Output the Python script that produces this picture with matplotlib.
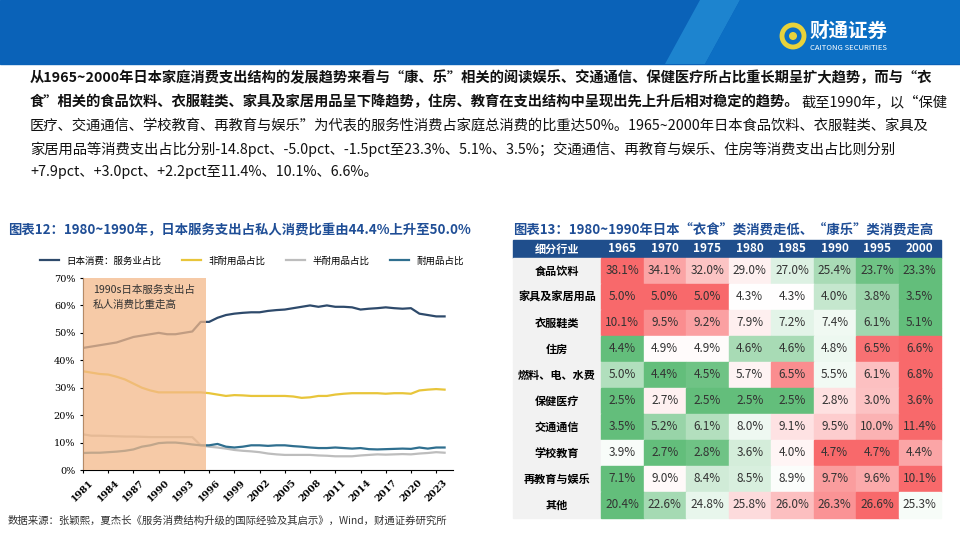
import matplotlib
matplotlib.use("Agg")
import matplotlib.pyplot as plt
import numpy as np
from matplotlib.colors import LinearSegmentedColormap
from matplotlib.patches import Rectangle, Circle, Polygon

plt.rcParams["font.family"] = "Noto Sans CJK SC"

years = list(range(1981, 2025))
services = [44.5,45,45.5,46,46.5,47.5,48.5,49,49.5,50,49.5,49.5,50,50.5,54,54,55.5,56.5,57,57.3,57.5,57.5,58,58.3,58.5,59,59.5,60,59.5,60,59.5,59.5,59.3,58.5,58.8,59,59.3,59,58.8,59,57,56.5,56,56]
nondurable = [36,35.5,35,34.8,34,33,31.5,30,29,28.3,28.3,28.3,28.3,28.3,28.3,28,27.5,27,27.3,27.2,27,27,27,27,27,26.8,26.3,26.5,27,27,27.5,27.8,28,28,28,28,27.8,28,28,27.8,29,29.3,29.5,29.3]
semidurable = [13,12.5,12.5,12.4,12.3,12.2,12.2,12.1,12,12,12,12,12,12,9,8.5,8.2,7.8,7.3,7,6.8,6.5,6,5.7,5.5,5.5,5.5,5.5,5.3,5.2,5,5,5,5.3,5.5,5.7,5.6,5.7,5.8,5.7,6,6.2,6.5,6.3]
durable = [6.2,6.3,6.3,6.5,6.7,7,7.5,8.5,9,9.8,10,10,9.7,9.3,9,9,9.5,8.5,8.2,8.5,9,9,8.8,9,9,8.7,8.5,8.2,8,8,8.2,8,7.8,8,7.6,7.5,7.6,7.7,7.8,7.7,8.2,7.8,8.2,8.2]
series_names = ["日本消费：服务业占比", "非耐用品占比", "半耐用品占比", "耐用品占比"]
xticks = list(range(1981, 2024, 3))

tab_cols = ["1965","1970","1975","1980","1985","1990","1995","2000"]
tab_rows = ["食品饮料","家具及家居用品","衣服鞋类","住房","燃料、电、水费","保健医疗","交通通信","学校教育","再教育与娱乐","其他"]
tab_vals = [
    [38.1,34.1,32.0,29.0,27.0,25.4,23.7,23.3],
    [5.0,5.0,5.0,4.3,4.3,4.0,3.8,3.5],
    [10.1,9.5,9.2,7.9,7.2,7.4,6.1,5.1],
    [4.4,4.9,4.9,4.6,4.6,4.8,6.5,6.6],
    [5.0,4.4,4.5,5.7,6.5,5.5,6.1,6.8],
    [2.5,2.7,2.5,2.5,2.5,2.8,3.0,3.6],
    [3.5,5.2,6.1,8.0,9.1,9.5,10.0,11.4],
    [3.9,2.7,2.8,3.6,4.0,4.7,4.7,4.4],
    [7.1,9.0,8.4,8.5,8.9,9.7,9.6,10.1],
    [20.4,22.6,24.8,25.8,26.0,26.3,26.6,25.3],
]

W, H = 960, 540
fig = plt.figure(figsize=(9.6, 5.4), dpi=100)
bg = fig.add_axes([0, 0, 1, 1])
bg.set_xlim(0, W); bg.set_ylim(H, 0); bg.axis("off")

# header band
bg.add_patch(Rectangle((0, 0), W, 64, color="#0a62b8"))
bg.add_patch(Polygon([(700, 0), (740, 0), (705, 64), (665, 64)], color="#2b9be0", alpha=0.6, lw=0))
bg.add_patch(Polygon([(740, 0), (W, 0), (W, 64), (705, 64)], color="#0c6fc4", lw=0))
bg.add_patch(Circle((793, 36), 11, facecolor="none", edgecolor="#e8d23a", lw=3.5))
bg.add_patch(Circle((793, 36), 4, facecolor="#e8d23a", edgecolor="none"))
bg.text(810, 31, "财通证券", fontsize=14, fontweight="bold", color="white", va="center")
bg.text(810, 48, "CAITONG SECURITIES", fontsize=5.5, color="white", va="center")

lines = [
    ("从1965~2000年日本家庭消费支出结构的发展趋势来看与“康、乐”相关的阅读娱乐、交通通信、保健医疗所占比重长期呈扩大趋势，而与“衣", "bold"),
    ("食”相关的食品饮料、衣服鞋类、家具及家居用品呈下降趋势，住房、教育在支出结构中呈现出先上升后相对稳定的趋势。", "bold"),
    ("医疗、交通通信、学校教育、再教育与娱乐”为代表的服务性消费占家庭总消费的比重达50%。1965~2000年日本食品饮料、衣服鞋类、家具及", "normal"),
    ("家居用品等消费支出占比分别-14.8pct、-5.0pct、-1.5pct至23.3%、5.1%、3.5%；交通通信、再教育与娱乐、住房等消费支出占比则分别", "normal"),
    ("+7.9pct、+3.0pct、+2.2pct至11.4%、10.1%、6.6%。", "normal"),
]
ys = [78, 102, 126, 149, 172]
for (t, w), y in zip(lines, ys):
    tx = bg.text(30, y, t, fontsize=10.3, fontweight=w, va="center", color="#111111")
    if y == 102:
        fig.canvas.draw()
        bb = tx.get_window_extent()
        bg.text(bb.x1 + 2, y, "截至1990年，以“保健", fontsize=10.3, va="center", color="#111111",
                transform=matplotlib.transforms.blended_transform_factory(matplotlib.transforms.IdentityTransform(), bg.transData))

bg.text(8, 230, "图表12：1980~1990年，日本服务支出占私人消费比重由44.4%上升至50.0%", fontsize=9.6, fontweight="bold", color="#1f4e96", va="center")
bg.text(513, 230, "图表13：1980~1990年日本“衣食”类消费走低、“康乐”类消费走高", fontsize=9.6, fontweight="bold", color="#1f4e96", va="center")
bg.text(8, 521, "数据来源：张颖熙，夏杰长《服务消费结构升级的国际经验及其启示》，Wind，财通证券研究所", fontsize=7.5, color="#333333", va="center")

# line chart
ax = fig.add_axes([83/W, 1-470/H, (453-83)/W, (470-278)/H])
cols = ["#2e4a6b", "#e8c53a", "#bdbdbd", "#2f6f8f"]
for data, c, n in zip([services, nondurable, semidurable, durable], cols, series_names):
    ax.plot(years, data, color=c, lw=1.6, label=n)
ax.axvspan(1981, 1995.6, color="#f3b98a", alpha=0.75, lw=0, zorder=3)
ax.text(1982.2, 67.5, "1990s日本服务支出占\n私人消费比重走高", fontsize=7.6, va="top", color="#333333", linespacing=1.6, zorder=4)
ax.set_xlim(1981, 2025); ax.set_ylim(0, 70)
ax.set_yticks(range(0, 71, 10))
ax.set_yticklabels([f"{v}%" for v in range(0, 71, 10)], fontsize=7, fontfamily="DejaVu Serif")
ax.set_xticks(xticks)
ax.set_xticklabels([str(x) for x in xticks], rotation=45, fontsize=7, fontweight="bold", fontfamily="DejaVu Serif")
for s in ["top", "right"]:
    ax.spines[s].set_visible(False)
ax.tick_params(length=2)
ax.legend(loc="lower left", bbox_to_anchor=(-0.14, 1.02), ncol=4, frameon=False, fontsize=6.8, handlelength=2, columnspacing=2.2)

# table
cmap = LinearSegmentedColormap.from_list("rwg", ["#63be7b", "#ffffff", "#f8696b"])
x0, c1w, cw = 513, 88, 42.5
hy, hh, rh = 240, 18, 26
bg.add_patch(Rectangle((x0, hy), c1w + cw*8, hh, color="#1f4e8c"))
bg.text(x0 + c1w/2, hy + hh/2, "细分行业", color="white", fontsize=8, fontweight="bold", ha="center", va="center")
for j, c in enumerate(tab_cols):
    bg.text(x0 + c1w + cw*(j+0.5), hy + hh/2, c, color="white", fontsize=8.5, fontweight="bold", ha="center", va="center")
for i, (r, vals) in enumerate(zip(tab_rows, tab_vals)):
    y = hy + hh + i*rh
    bg.add_patch(Rectangle((x0, y), c1w, rh, color="#f2f2f2"))
    bg.text(x0 + c1w/2, y + rh/2, r, fontsize=8, fontweight="bold", ha="center", va="center")
    v = np.array(vals); lo, hi, md = v.min(), v.max(), np.median(v)
    for j, val in enumerate(vals):
        if val >= md:
            t = 0.5 + 0.5*(val - md)/(hi - md if hi > md else 1)
        else:
            t = 0.5 - 0.5*(md - val)/(md - lo if md > lo else 1)
        bg.add_patch(Rectangle((x0 + c1w + cw*j, y), cw, rh, color=cmap(t)))
        bg.text(x0 + c1w + cw*(j+0.5), y + rh/2, f"{val:.1f}%", fontsize=8.5, ha="center", va="center", color="#333333")

fig.savefig("out.png", dpi=100)
